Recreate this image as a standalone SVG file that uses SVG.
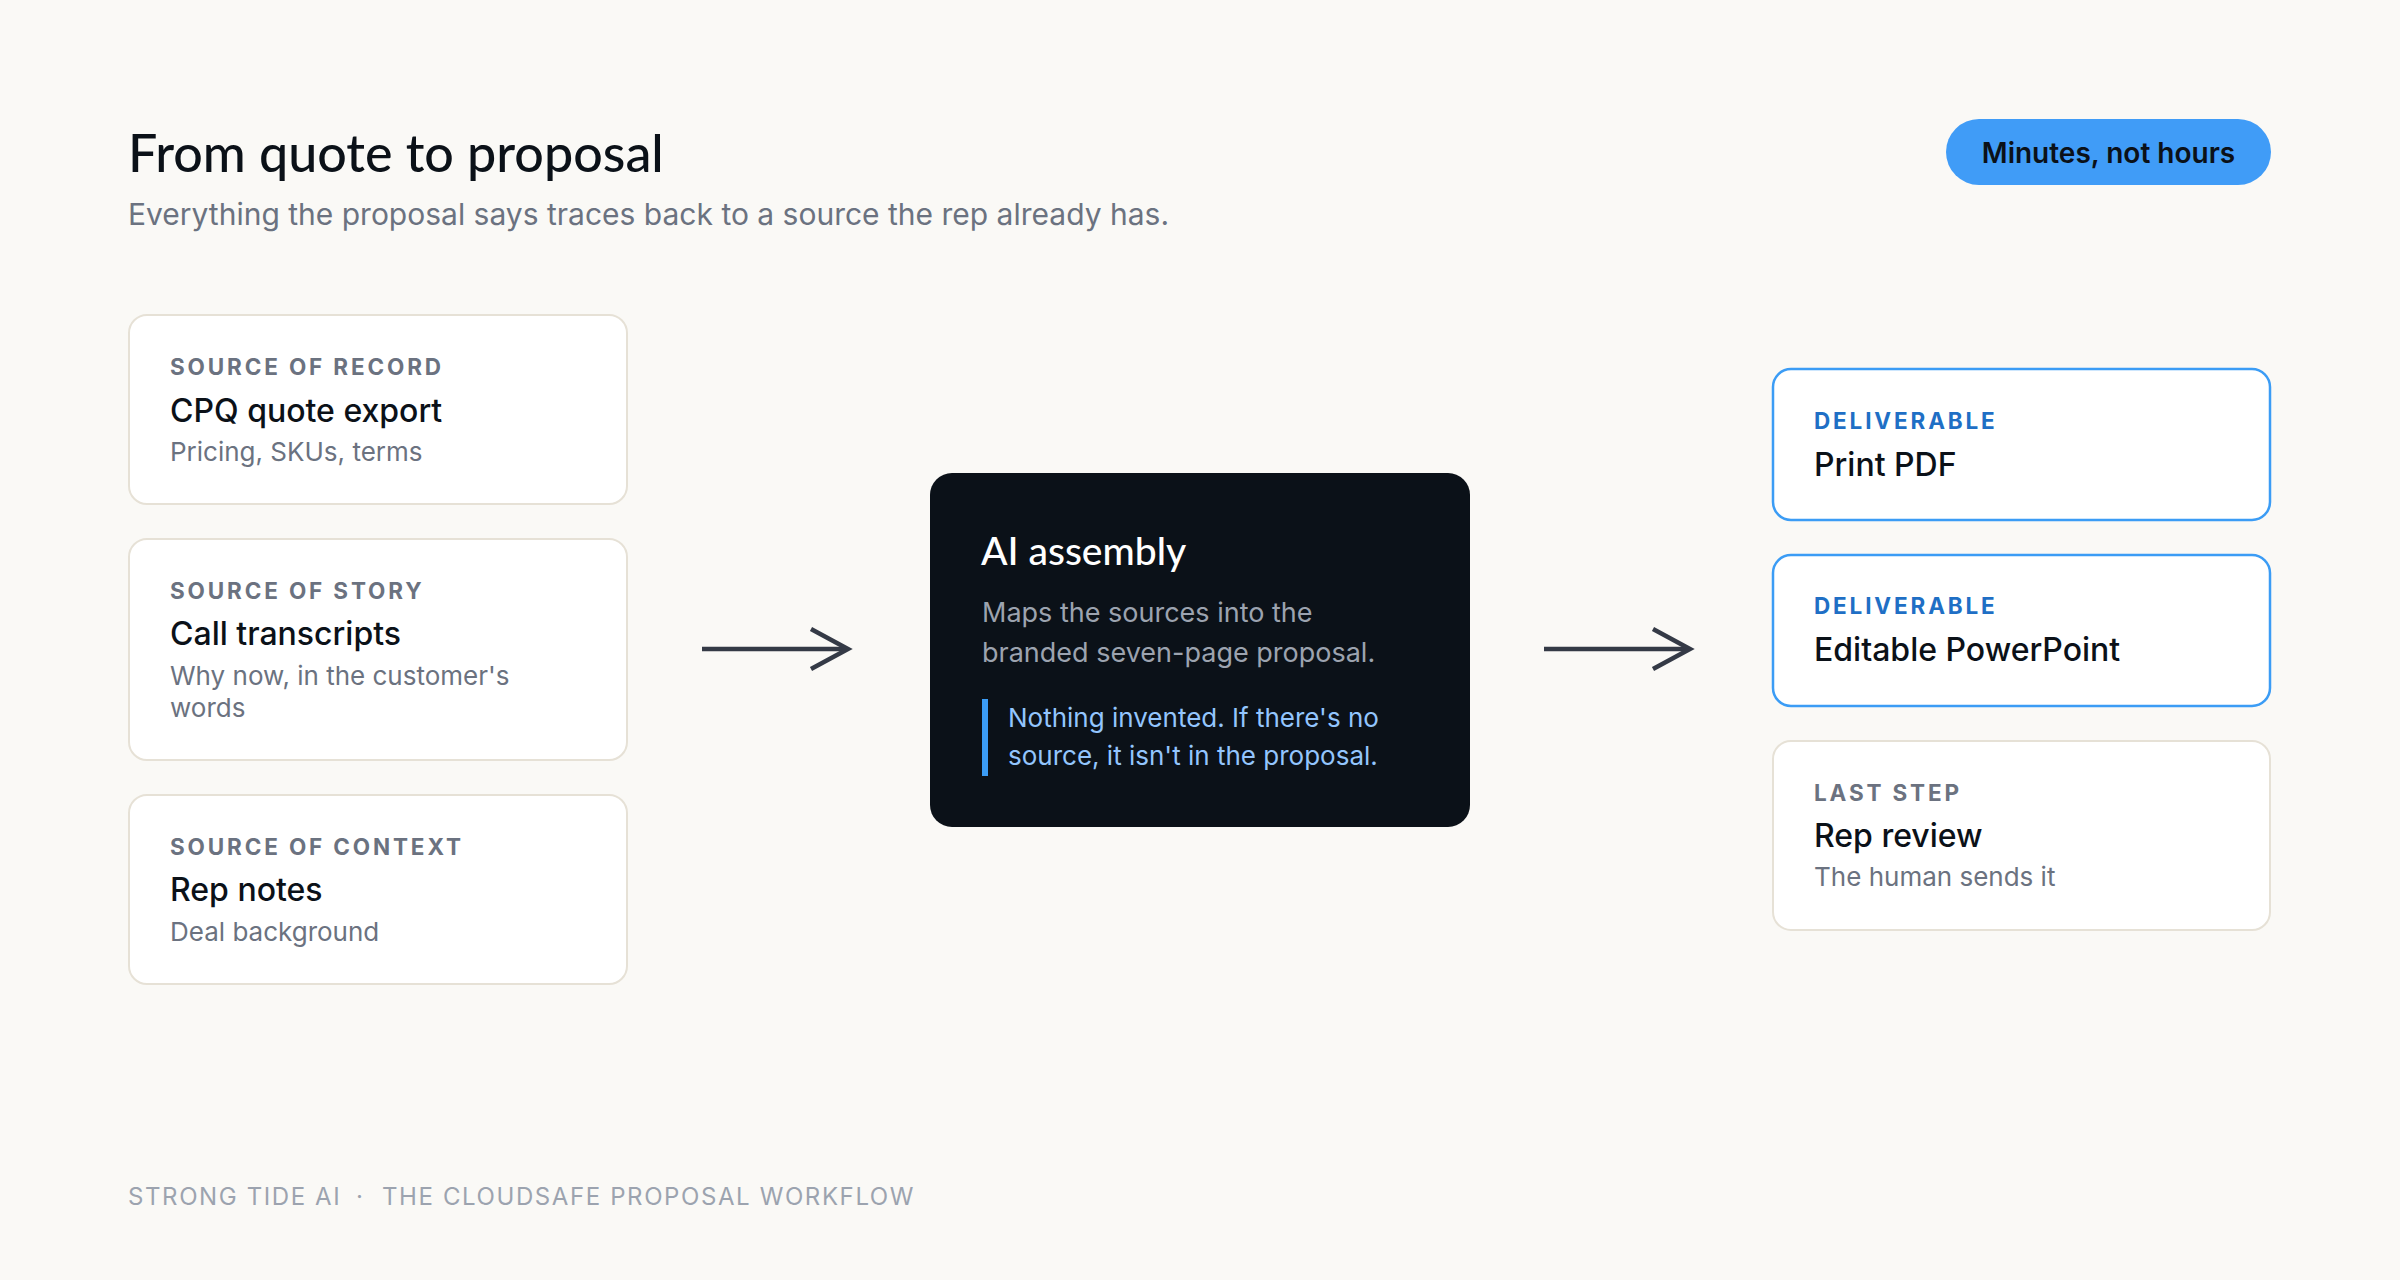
<svg xmlns="http://www.w3.org/2000/svg" width="2400" height="1280" viewBox="0 0 2400 1280">
  <defs>
    <style>
      .bg { fill: #faf9f6; }
      .card { fill: #ffffff; stroke: #e6e1d6; stroke-width: 2; }
      .card-blue { fill: #ffffff; stroke: #3b9cf5; stroke-width: 2.5; }
      .dark { fill: #0b1118; }
      .display { font-family: Lato, "Noto Sans", sans-serif; font-weight: 500; }
      .body { font-family: Inter, "Noto Sans", sans-serif; }
      .title { font-size: 52px; fill: #0b1118; }
      .subtitle { font-size: 30px; fill: #6b7280; }
      .label { font-size: 22.5px; font-weight: 700; letter-spacing: 2.85px; fill: #6b7280; }
      .label-blue { fill: #1f6fc5; }
      .name { font-size: 32px; font-weight: 500; fill: #0b1118; }
      .sub { font-size: 26px; fill: #6b7280; }
      .ai-title { font-size: 39px; fill: #ffffff; }
      .ai-body { font-size: 27px; fill: #9ca3af; }
      .ai-quote { font-size: 26px; fill: #93c5fd; }
      .pill-text { font-size: 28px; font-weight: 600; fill: #0b1118; }
      .footer { font-size: 24px; letter-spacing: 1.6px; fill: #9ca3af; }
      .arrow { fill: none; stroke: #343a46; stroke-width: 4.5; stroke-linecap: butt; stroke-linejoin: miter; }
    </style>
  </defs>

  <rect class="bg" x="0" y="0" width="2400" height="1280"/>

  <g id="header">
    <text class="display title" x="128" y="172">From quote to proposal</text>
    <text class="body subtitle" x="128" y="225">Everything the proposal says traces back to a source the rep already has.</text>
  </g>

  <g id="pill">
    <rect x="1946" y="119" width="325" height="66" rx="33" fill="#409cf7"/>
    <text class="body pill-text" x="2108.5" y="163" text-anchor="middle">Minutes, not hours</text>
  </g>

  <g id="source-record">
    <rect class="card" x="129" y="315" width="498" height="189" rx="18"/>
    <text class="body label" x="170" y="375">SOURCE OF RECORD</text>
    <text class="body name" x="170" y="422">CPQ quote export</text>
    <text class="body sub" x="170" y="461">Pricing, SKUs, terms</text>
  </g>

  <g id="source-story">
    <rect class="card" x="129" y="539" width="498" height="221" rx="18"/>
    <text class="body label" x="170" y="599">SOURCE OF STORY</text>
    <text class="body name" x="170" y="645">Call transcripts</text>
    <text class="body sub" x="170" y="685">Why now, in the customer's</text>
    <text class="body sub" x="170" y="717">words</text>
  </g>

  <g id="source-context">
    <rect class="card" x="129" y="795" width="498" height="189" rx="18"/>
    <text class="body label" x="170" y="855">SOURCE OF CONTEXT</text>
    <text class="body name" x="170" y="901">Rep notes</text>
    <text class="body sub" x="170" y="941">Deal background</text>
  </g>

  <g id="ai-assembly">
    <rect class="dark" x="930" y="473" width="540" height="354" rx="22"/>
    <text class="display ai-title" x="981" y="565">AI assembly</text>
    <text class="body ai-body" x="982" y="622">Maps the sources into the</text>
    <text class="body ai-body" x="982" y="662">branded seven-page proposal.</text>
    <rect x="982" y="699" width="6" height="77" fill="#3b9cf5"/>
    <text class="body ai-quote" x="1008" y="727">Nothing invented. If there's no</text>
    <text class="body ai-quote" x="1008" y="765">source, it isn't in the proposal.</text>
  </g>

  <g id="print-pdf">
    <rect class="card-blue" x="1773" y="369" width="497" height="151" rx="18"/>
    <text class="body label label-blue" x="1814" y="429">DELIVERABLE</text>
    <text class="body name" x="1814" y="476">Print PDF</text>
  </g>

  <g id="powerpoint">
    <rect class="card-blue" x="1773" y="555" width="497" height="151" rx="18"/>
    <text class="body label label-blue" x="1814" y="614">DELIVERABLE</text>
    <text class="body name" x="1814" y="661">Editable PowerPoint</text>
  </g>

  <g id="rep-review">
    <rect class="card" x="1773" y="741" width="497" height="189" rx="18"/>
    <text class="body label" x="1814" y="801">LAST STEP</text>
    <text class="body name" x="1814" y="847">Rep review</text>
    <text class="body sub" x="1814" y="886">The human sends it</text>
  </g>

  <g id="connectors">
    <line class="arrow" x1="702" y1="649" x2="846" y2="649"/>
    <polyline class="arrow" points="811,629 848,649 811,669"/>
    <line class="arrow" x1="1544" y1="649" x2="1688" y2="649"/>
    <polyline class="arrow" points="1653,629 1690,649 1653,669"/>
  </g>

  <g id="footer">
    <text class="body footer" x="128" y="1205">STRONG TIDE AI</text>
    <text class="body footer" x="356" y="1205">·</text>
    <text class="body footer" x="382" y="1205">THE CLOUDSAFE PROPOSAL WORKFLOW</text>
  </g>
</svg>
